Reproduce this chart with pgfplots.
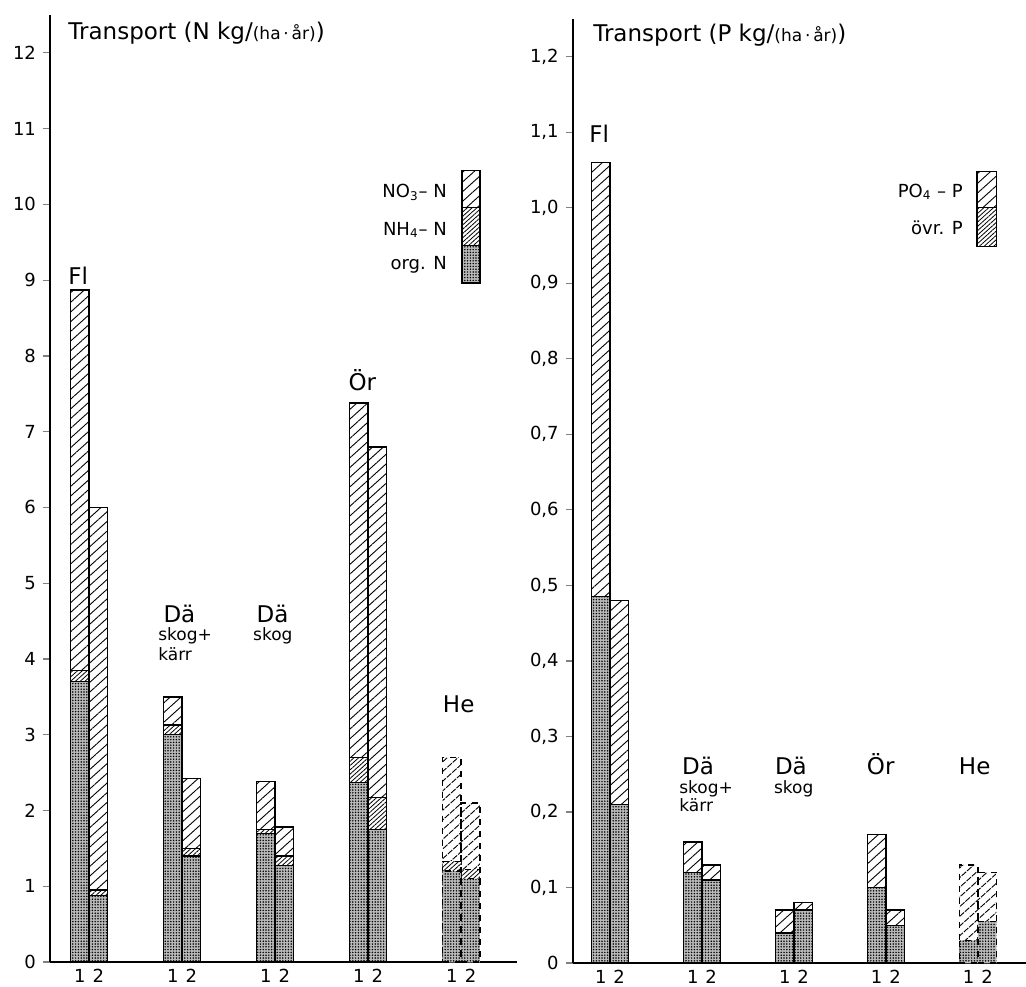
\documentclass[border=0pt]{standalone}
\usepackage{pgfplots}
\usepackage{pgfplotstable}
\pgfplotsset{compat=1.18}
\usepackage{fontspec}
\setmainfont{DejaVu Sans}
\usetikzlibrary{patterns,patterns.meta}

\tikzset{
  hatchS/.style={fill=white, postaction={pattern={Lines[angle=42,distance=3.6pt,line width=0.45pt]}}},
  hatchD/.style={fill=white, postaction={pattern={Lines[angle=42,distance=1.6pt,line width=0.4pt]}}},
  dotsP/.style={fill=gray!55, postaction={pattern={Dots[distance=1.4pt,radius=0.42pt]}}},
}

\pgfplotsset{
  panel/.style={
    scale only axis, axis x line=bottom, axis y line=left,
    axis line style={-, line width=0.8pt},
    tick align=outside, major tick length=3.5pt,
    xtick style={draw=none}, ytick style={line width=0.6pt},
    ymin=0,
    ticklabel style={font=\fontsize{9}{9}\selectfont},
    xticklabel style={yshift=3.5pt},
    /pgf/number format/assume math mode=true,
    xtick={-0.1,0.1,0.9,1.1,1.9,2.1,2.9,3.1,3.9,4.1},
    xticklabels={1,2,1,2,1,2,1,2,1,2},
    clip=false,
  },
  seg/.style={ybar, bar width=0.2, bar shift=0pt, draw=black, line width=0.7pt},
}

% N transport: cumulative heights (total, org+NH4, org)
\pgfplotstableread{
x    tot   mid   org
-0.1 8.87  3.85  3.70
0.1  6.00  0.95  0.88
0.9  3.50  3.13  3.00
1.1  2.42  1.50  1.40
1.9  2.38  1.75  1.70
2.1  1.78  1.40  1.27
2.9  7.38  2.70  2.37
3.1  6.80  2.17  1.75
}\Ndata
\pgfplotstableread{
x    tot   mid   org
3.9  2.70  1.33  1.20
4.1  2.10  1.22  1.10
}\NdataHe
% P transport: cumulative heights (total, ovr P)
\pgfplotstableread{
x    tot   ovr
-0.1 1.06  0.485
0.1  0.48  0.21
0.9  0.16  0.12
1.1  0.13  0.11
1.9  0.07  0.04
2.1  0.08  0.07
2.9  0.17  0.10
3.1  0.07  0.05
}\Pdata
\pgfplotstableread{
x    tot   ovr
3.9  0.13  0.03
4.1  0.12  0.055
}\PdataHe

\newcommand\fbig{\fontsize{11.5}{12}\selectfont}
\newcommand\fsml{\fontsize{8.5}{9}\selectfont}
\newcommand\flab{\fontsize{9}{9}\selectfont}

\begin{document}
\begin{tikzpicture}
\begin{axis}[panel, width=233.5pt, height=473.5pt,
  xmin=-0.42, xmax=4.6, ymax=12.5,
  ytick={0,1,...,12}]
  \addplot[seg, hatchS] table[x=x,y=tot]{\Ndata};
  \addplot[seg, hatchD] table[x=x,y=mid]{\Ndata};
  \addplot[seg, dotsP] table[x=x,y=org]{\Ndata};
  \addplot[seg, dashed, hatchS] table[x=x,y=tot]{\NdataHe};
  \addplot[seg, dashed, hatchD] table[x=x,y=mid]{\NdataHe};
  \addplot[seg, dashed, dotsP] table[x=x,y=org]{\NdataHe};
  % title
  \node[anchor=base west, inner sep=0, font=\fbig] at (axis cs:-0.226,12.18) {Transport (N kg/{\fsml(ha\,·\,år)})};
  % group labels
  \node[anchor=base west, inner sep=0, font=\fbig] at (axis cs:-0.226,8.94) {Fl};
  \node[anchor=base west, inner sep=0, font=\fbig] at (axis cs:0.796,4.48) {Dä};
  \node[anchor=base west, inner sep=0, font=\fsml] at (axis cs:0.74,4.25) {skog+};
  \node[anchor=base west, inner sep=0, font=\fsml] at (axis cs:0.74,3.98) {kärr};
  \node[anchor=base west, inner sep=0, font=\fbig] at (axis cs:1.796,4.48) {Dä};
  \node[anchor=base west, inner sep=0, font=\fsml] at (axis cs:1.76,4.24) {skog};
  \node[anchor=base west, inner sep=0, font=\fbig] at (axis cs:2.785,7.55) {Ör};
  \node[anchor=base west, inner sep=0, font=\fbig] at (axis cs:3.80,3.29) {He};
  % legend
  \draw[line width=0.7pt, hatchS] (axis cs:4.01,9.96) rectangle (axis cs:4.20,10.45);
  \draw[line width=0.7pt, hatchD] (axis cs:4.01,9.46) rectangle (axis cs:4.20,9.96);
  \draw[line width=0.7pt, dotsP] (axis cs:4.01,8.96) rectangle (axis cs:4.20,9.46);
  \node[anchor=east, inner sep=0, font=\flab] at (axis cs:3.85,10.16) {NO\textsubscript{3}– N};
  \node[anchor=east, inner sep=0, font=\flab] at (axis cs:3.85,9.66) {NH\textsubscript{4}– N};
  \node[anchor=east, inner sep=0, font=\flab] at (axis cs:3.85,9.20) {org. N};
\end{axis}

\begin{axis}[panel, at={(261.35pt,-0.5pt)}, width=226.5pt, height=472pt,
  xmin=-0.405, xmax=4.52, ymax=1.25,
  ytick={0,0.1,0.2,0.3,0.4,0.5,0.6,0.7,0.8,0.9,1.0,1.1,1.2},
  yticklabels={0,{0,1},{0,2},{0,3},{0,4},{0,5},{0,6},{0,7},{0,8},{0,9},{1,0},{1,1},{1,2}}]
  \addplot[seg, hatchS] table[x=x,y=tot]{\Pdata};
  \addplot[seg, dotsP] table[x=x,y=ovr]{\Pdata};
  \addplot[seg, dashed, hatchS] table[x=x,y=tot]{\PdataHe};
  \addplot[seg, dashed, dotsP] table[x=x,y=ovr]{\PdataHe};
  \node[anchor=base west, inner sep=0, font=\fbig] at (axis cs:-0.185,1.22) {Transport (P kg/{\fsml(ha\,·\,år)})};
  \node[anchor=base west, inner sep=0, font=\fbig] at (axis cs:-0.228,1.086) {Fl};
  \node[anchor=base west, inner sep=0, font=\fbig] at (axis cs:0.78,0.249) {Dä};
  \node[anchor=base west, inner sep=0, font=\fsml] at (axis cs:0.75,0.224) {skog+};
  \node[anchor=base west, inner sep=0, font=\fsml] at (axis cs:0.75,0.200) {kärr};
  \node[anchor=base west, inner sep=0, font=\fbig] at (axis cs:1.79,0.249) {Dä};
  \node[anchor=base west, inner sep=0, font=\fsml] at (axis cs:1.78,0.224) {skog};
  \node[anchor=base west, inner sep=0, font=\fbig] at (axis cs:2.79,0.249) {Ör};
  \node[anchor=base west, inner sep=0, font=\fbig] at (axis cs:3.79,0.249) {He};
  \draw[line width=0.7pt, hatchS] (axis cs:3.99,1.0) rectangle (axis cs:4.20,1.048);
  \draw[line width=0.7pt, hatchD] (axis cs:3.99,0.949) rectangle (axis cs:4.20,1.0);
  \node[anchor=east, inner sep=0, font=\flab] at (axis cs:3.84,1.021) {PO\textsubscript{4} – P};
  \node[anchor=east, inner sep=0, font=\flab] at (axis cs:3.84,0.973) {övr. P};
\end{axis}
\pgfresetboundingbox
\useasboundingbox (-25pt,-12pt) rectangle (488pt,481pt);
\end{tikzpicture}
\end{document}
